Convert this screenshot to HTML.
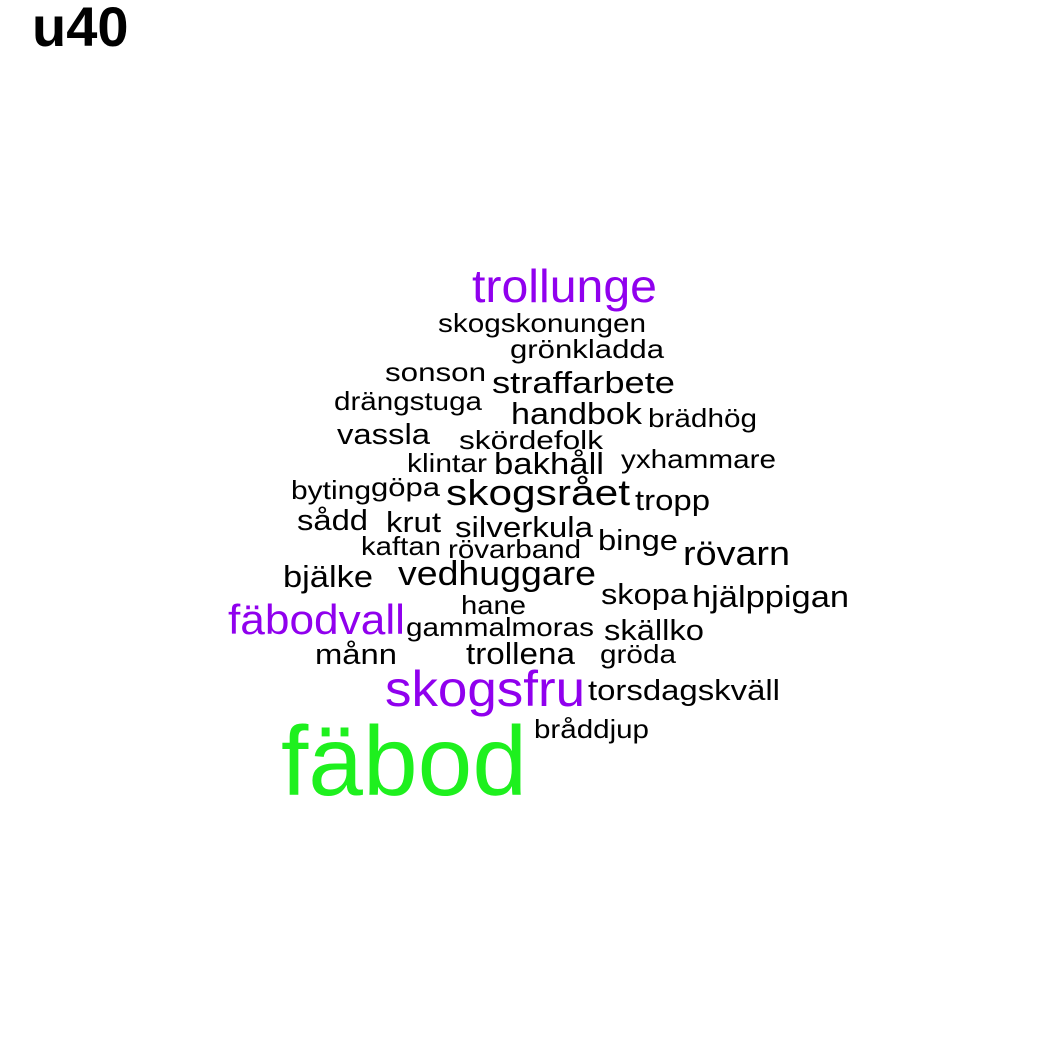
<!DOCTYPE html>
<html><head><meta charset="utf-8"><style>
html,body{margin:0;padding:0;background:#fff;}
svg{display:block;font-family:"Liberation Sans",Arial,sans-serif;}
</style></head><body>
<svg width="1050" height="1050" viewBox="0 0 1050 1050">
<rect width="1050" height="1050" fill="#fff"/>
<text x="32" y="46" font-size="56" font-weight="bold" fill="#000">u40</text>
<g id="words"></g>
</svg>
<script>
const words = ["trollunge","skogskonungen","grönkladda","sonson","straffarbete","drängstuga","handbok","brädhög","vassla","skördefolk","klintar","bakhåll","yxhammare","byting","göpa","skogsrået","tropp","sådd","krut","silverkula","kaftan","rövarband","binge","rövarn","bjälke","vedhuggare","skopa","hjälppigan","fäbodvall","hane","gammalmoras","skällko","månn","trollena","gröda","skogsfru","torsdagskväll","bråddjup","fäbod"];
const xs = [472,438,510,385,492,334,511,648,337,459,407,494,621,291,371,446,635,297,386,455,361,448,598,683,283,398,601,692,228,461,406,604,315,466,600,385,588,534,281];
const ys = [302,332,358,381,393,410,424,427,444,449,472,474,468,499,496,505,510,530,532,537,555,558,550,565,587,585,604,607,634,614,636,640,664,664,663,706,700,738,795];
const ws = [185,208,154,101,183,148,131,109,93,144,80,110,155,80,69,184,75,71,55,138,80,133,80,107,90,198,87,157,177,65,188,100,82,109,76,200,192,115,246];
const sizes = [46,26,26,26,31,26,31,26,29,26,26,31,26,26,26,36,29,29,29,29,26,26,29,34,31,34,29,31,42,26,26,29,29,31,26,50,29,26,98];
const colors = {"trollunge":"#9000ee","fäbodvall":"#9000ee","skogsfru":"#9000ee","fäbod":"#1ef01e"};
const g = document.getElementById('words');
words.forEach((w,i)=>{
  const t = document.createElementNS('http://www.w3.org/2000/svg','text');
  
  
  t.setAttribute('x', xs[i]);
  t.setAttribute('y', ys[i]);
  t.setAttribute('font-size', sizes[i]);
  t.setAttribute('textLength', ws[i]);
  t.setAttribute('lengthAdjust', 'spacingAndGlyphs');
  t.setAttribute('fill', colors[w] || '#000');
  t.textContent = w;
  g.appendChild(t);
});
</script>
</body></html>
